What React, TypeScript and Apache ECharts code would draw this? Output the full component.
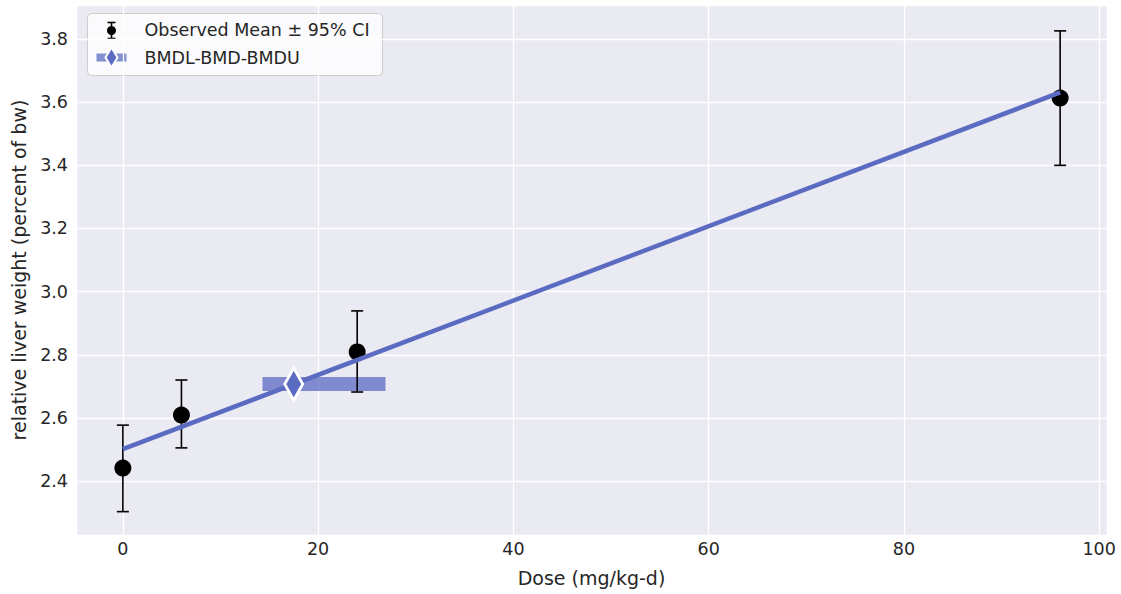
import React, { useEffect, useRef } from "react";
import * as echarts from "echarts";

const doses = [0, 6, 24, 96];
const means = [2.441, 2.609, 2.809, 3.613];
const ciLower = [2.303, 2.505, 2.682, 3.4];
const ciUpper = [2.577, 2.72, 2.939, 3.826];
const modelDoses = [0, 96];
const modelValues = [2.501, 3.631];
const bmdl = 14.3;
const bmd = 17.5;
const bmdu = 26.9;
const bmdResponse = 2.707;
const legendLabels = ["Observed Mean ± 95% CI", "BMDL-BMD-BMDU"];

const FONT = "DejaVu Sans";
const TXT = "#262626";
const BLUE = "#5b6bc2";

export default function App() {
  const ref = useRef<HTMLDivElement>(null);
  useEffect(() => {
    if (!ref.current) return;
    const chart = echarts.init(ref.current, null, { renderer: "svg" });
    const errData = doses.map((d, i) => [d, ciLower[i], ciUpper[i]]);
    const option: any = {
      animation: false,
      backgroundColor: "#ffffff",
      grid: {
        left: 76,
        right: 14,
        top: 5,
        bottom: 59,
        show: true,
        backgroundColor: "#eaeaf2",
        borderWidth: 0,
      },
      xAxis: {
        type: "value",
        min: -4.8,
        max: 100.8,
        splitNumber: 5,
        name: "Dose (mg/kg-d)",
        nameLocation: "middle",
        nameGap: 33,
        nameTextStyle: { fontFamily: FONT, fontSize: 19, color: TXT },
        axisLine: { show: false },
        axisTick: { show: false },
        axisLabel: {
          showMinLabel: false,
          showMaxLabel: false,
          fontFamily: FONT,
          fontSize: 17.5,
          color: TXT,
          margin: 5,
        },
        splitLine: { show: true, lineStyle: { color: "#ffffff", width: 1.3 } },
      },
      yAxis: {
        type: "value",
        min: 2.229,
        max: 3.908,
        splitNumber: 8,
        name: "relative liver weight (percent of bw)",
        nameLocation: "middle",
        nameGap: 48,
        nameTextStyle: { fontFamily: FONT, fontSize: 19, color: TXT },
        axisLine: { show: false },
        axisTick: { show: false },
        axisLabel: {
          showMinLabel: false,
          showMaxLabel: false,
          fontFamily: FONT,
          fontSize: 17.5,
          color: TXT,
          margin: 8,
          formatter: (v: number) => v.toFixed(1),
        },
        splitLine: { show: true, lineStyle: { color: "#ffffff", width: 1.3 } },
      },
      series: [
        {
          type: "custom",
          name: "bmdbar",
          z: 2,
          data: [[bmdl, bmdu, bmdResponse]],
          renderItem: (params: any, api: any) => {
            const p1 = api.coord([api.value(0), api.value(2)]);
            const p2 = api.coord([api.value(1), api.value(2)]);
            return {
              type: "rect",
              shape: { x: p1[0], y: p1[1] - 7, width: p2[0] - p1[0], height: 14 },
              style: { fill: BLUE, opacity: 0.75 },
            };
          },
        },
        {
          type: "custom",
          name: "err",
          z: 3,
          data: errData,
          renderItem: (params: any, api: any) => {
            const x = api.value(0);
            const lo = api.coord([x, api.value(1)]);
            const hi = api.coord([x, api.value(2)]);
            const st = { stroke: "#000000", lineWidth: 1.6 };
            return {
              type: "group",
              children: [
                { type: "line", shape: { x1: lo[0], y1: lo[1], x2: hi[0], y2: hi[1] }, style: st },
                { type: "line", shape: { x1: lo[0] - 6, y1: lo[1], x2: lo[0] + 6, y2: lo[1] }, style: st },
                { type: "line", shape: { x1: hi[0] - 6, y1: hi[1], x2: hi[0] + 6, y2: hi[1] }, style: st },
              ],
            };
          },
        },
        {
          type: "scatter",
          name: "means",
          z: 4,
          symbol: "circle",
          symbolSize: 17,
          itemStyle: { color: "#000000", opacity: 1 },
          data: doses.map((d, i) => [d, means[i]]),
        },
        {
          type: "line",
          name: "model",
          z: 5,
          showSymbol: false,
          symbol: "none",
          lineStyle: { color: BLUE, width: 4.5 },
          data: modelDoses.map((d, i) => [d, modelValues[i]]),
        },
        {
          type: "scatter",
          name: "bmd",
          z: 6,
          symbol: "diamond",
          symbolSize: [18, 32],
          itemStyle: { color: BLUE, borderColor: "#ffffff", borderWidth: 3, opacity: 1 },
          data: [[bmd, bmdResponse]],
        },
      ],
      graphic: [
        {
          type: "group",
          left: 87,
          top: 13,
          z: 100,
          children: [
            {
              type: "rect",
              shape: { x: 0, y: 0, width: 295, height: 62, r: 4 },
              style: { fill: "rgba(255,255,255,0.8)", stroke: "#cccccc", lineWidth: 1 },
            },
            { type: "line", shape: { x1: 24, y1: 9, x2: 24, y2: 25 }, style: { stroke: "#000", lineWidth: 1.6 } },
            { type: "line", shape: { x1: 20, y1: 9, x2: 28, y2: 9 }, style: { stroke: "#000", lineWidth: 1.6 } },
            { type: "line", shape: { x1: 20, y1: 25, x2: 28, y2: 25 }, style: { stroke: "#000", lineWidth: 1.6 } },
            { type: "circle", shape: { cx: 24, cy: 17, r: 4.5 }, style: { fill: "#000" } },
            {
              type: "rect",
              shape: { x: 9, y: 40, width: 30, height: 8 },
              style: { fill: BLUE, opacity: 0.75 },
            },
            {
              type: "polygon",
              shape: { points: [[24, 34], [30, 44], [24, 54], [18, 44]] },
              style: { fill: BLUE, stroke: "#ffffff", lineWidth: 2 },
            },
            {
              type: "text",
              x: 57,
              y: 16.5,
              style: {
                text: legendLabels[0],
                fontFamily: FONT,
                fontSize: 17.5,
                fill: TXT,
                verticalAlign: "middle",
              },
            },
            {
              type: "text",
              x: 57,
              y: 44,
              style: {
                text: legendLabels[1],
                fontFamily: FONT,
                fontSize: 17.5,
                fill: TXT,
                verticalAlign: "middle",
              },
            },
          ],
        },
      ],
    };
    chart.setOption(option);
    return () => chart.dispose();
  }, []);
  return (
    <div
      ref={ref}
      style={{ position: "fixed", left: 0, top: 0, width: 1121, height: 594 }}
    />
  );
}
